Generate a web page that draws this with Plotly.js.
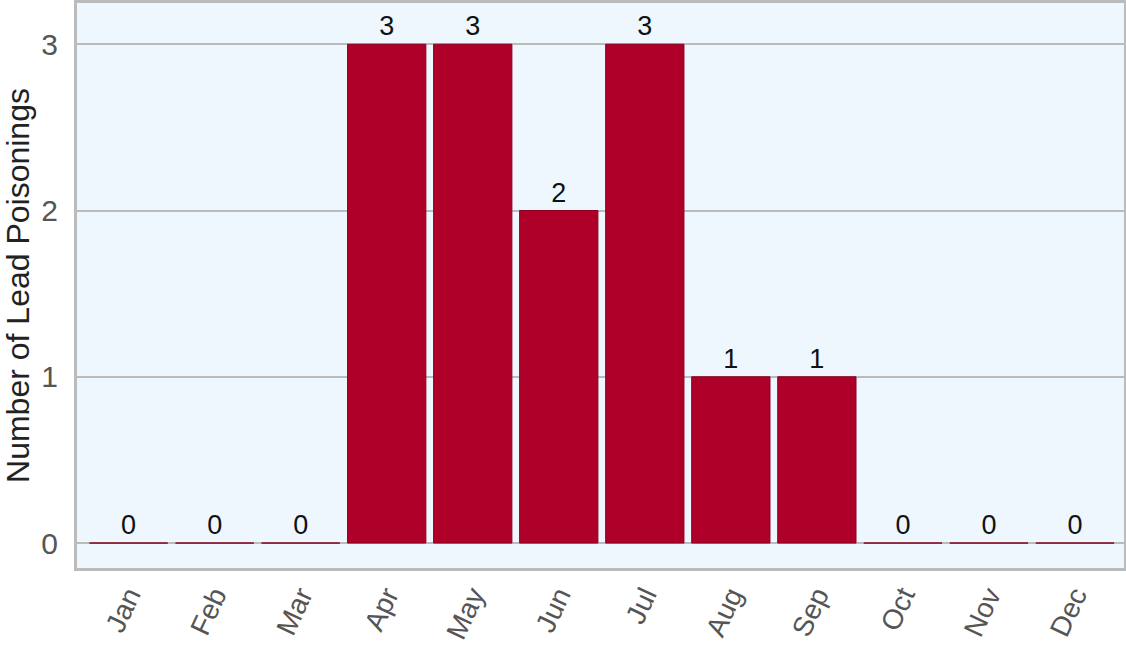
<!DOCTYPE html>
<html>
<head>
<meta charset="utf-8">
<script src="https://cdn.plot.ly/plotly-3.0.1.min.js"></script>
<style>
  html, body { margin: 0; padding: 0; background: #ffffff; }
  #chart { width: 1126px; height: 647px; }
</style>
</head>
<body>
<div id="chart"></div>
<script>
// Monthly counts of lead poisonings
const months = ['Jan', 'Feb', 'Mar', 'Apr', 'May', 'Jun', 'Jul', 'Aug', 'Sep', 'Oct', 'Nov', 'Dec'];
const poisonings = [0, 0, 0, 3, 3, 2, 3, 1, 1, 0, 0, 0];
const yTicks = [0, 1, 2, 3];

const barColor = '#AE0028';
const fontFamily = 'Liberation Sans, Arial, sans-serif';

const trace = {
  type: 'bar',
  x: months,
  y: poisonings,
  text: poisonings.map(String),
  textposition: 'outside',
  cliponaxis: false,
  textfont: { family: fontFamily, size: 27, color: '#111111' },
  marker: { color: barColor, line: { color: '#8a0020', width: 1 } },
  hoverinfo: 'x+y'
};

const layout = {
  width: 1126,
  height: 647,
  margin: { l: 77, r: 2, t: 3, b: 79 },
  paper_bgcolor: '#ffffff',
  plot_bgcolor: '#EEF6FE',
  bargap: 0.09,
  showlegend: false,
  font: { family: fontFamily, color: '#555555' },
  xaxis: {
    type: 'category',
    range: [-0.6, 11.57],
    tickangle: -65,
    tickfont: { size: 28, color: '#555555' },
    ticklabelstandoff: -3,
    showgrid: false,
    showline: true,
    linecolor: '#BBBBBB',
    linewidth: 3,
    mirror: true,
    ticks: '',
    zeroline: false
  },
  yaxis: {
    range: [-0.15, 3.248],
    tickvals: yTicks,
    ticktext: yTicks.map(String),
    tickfont: { size: 30, color: '#555555' },
    ticklabelstandoff: 10,
    showgrid: true,
    gridcolor: '#BBBBBB',
    gridwidth: 2,
    showline: true,
    linecolor: '#BBBBBB',
    linewidth: 3,
    mirror: true,
    zeroline: false,
    ticks: '',
    title: { text: 'Number of Lead Poisonings', font: { family: fontFamily, size: 32, color: '#222222' }, standoff: 10 }
  }
};

Plotly.newPlot('chart', [trace], layout, { displayModeBar: false, staticPlot: true });
</script>
</body>
</html>
